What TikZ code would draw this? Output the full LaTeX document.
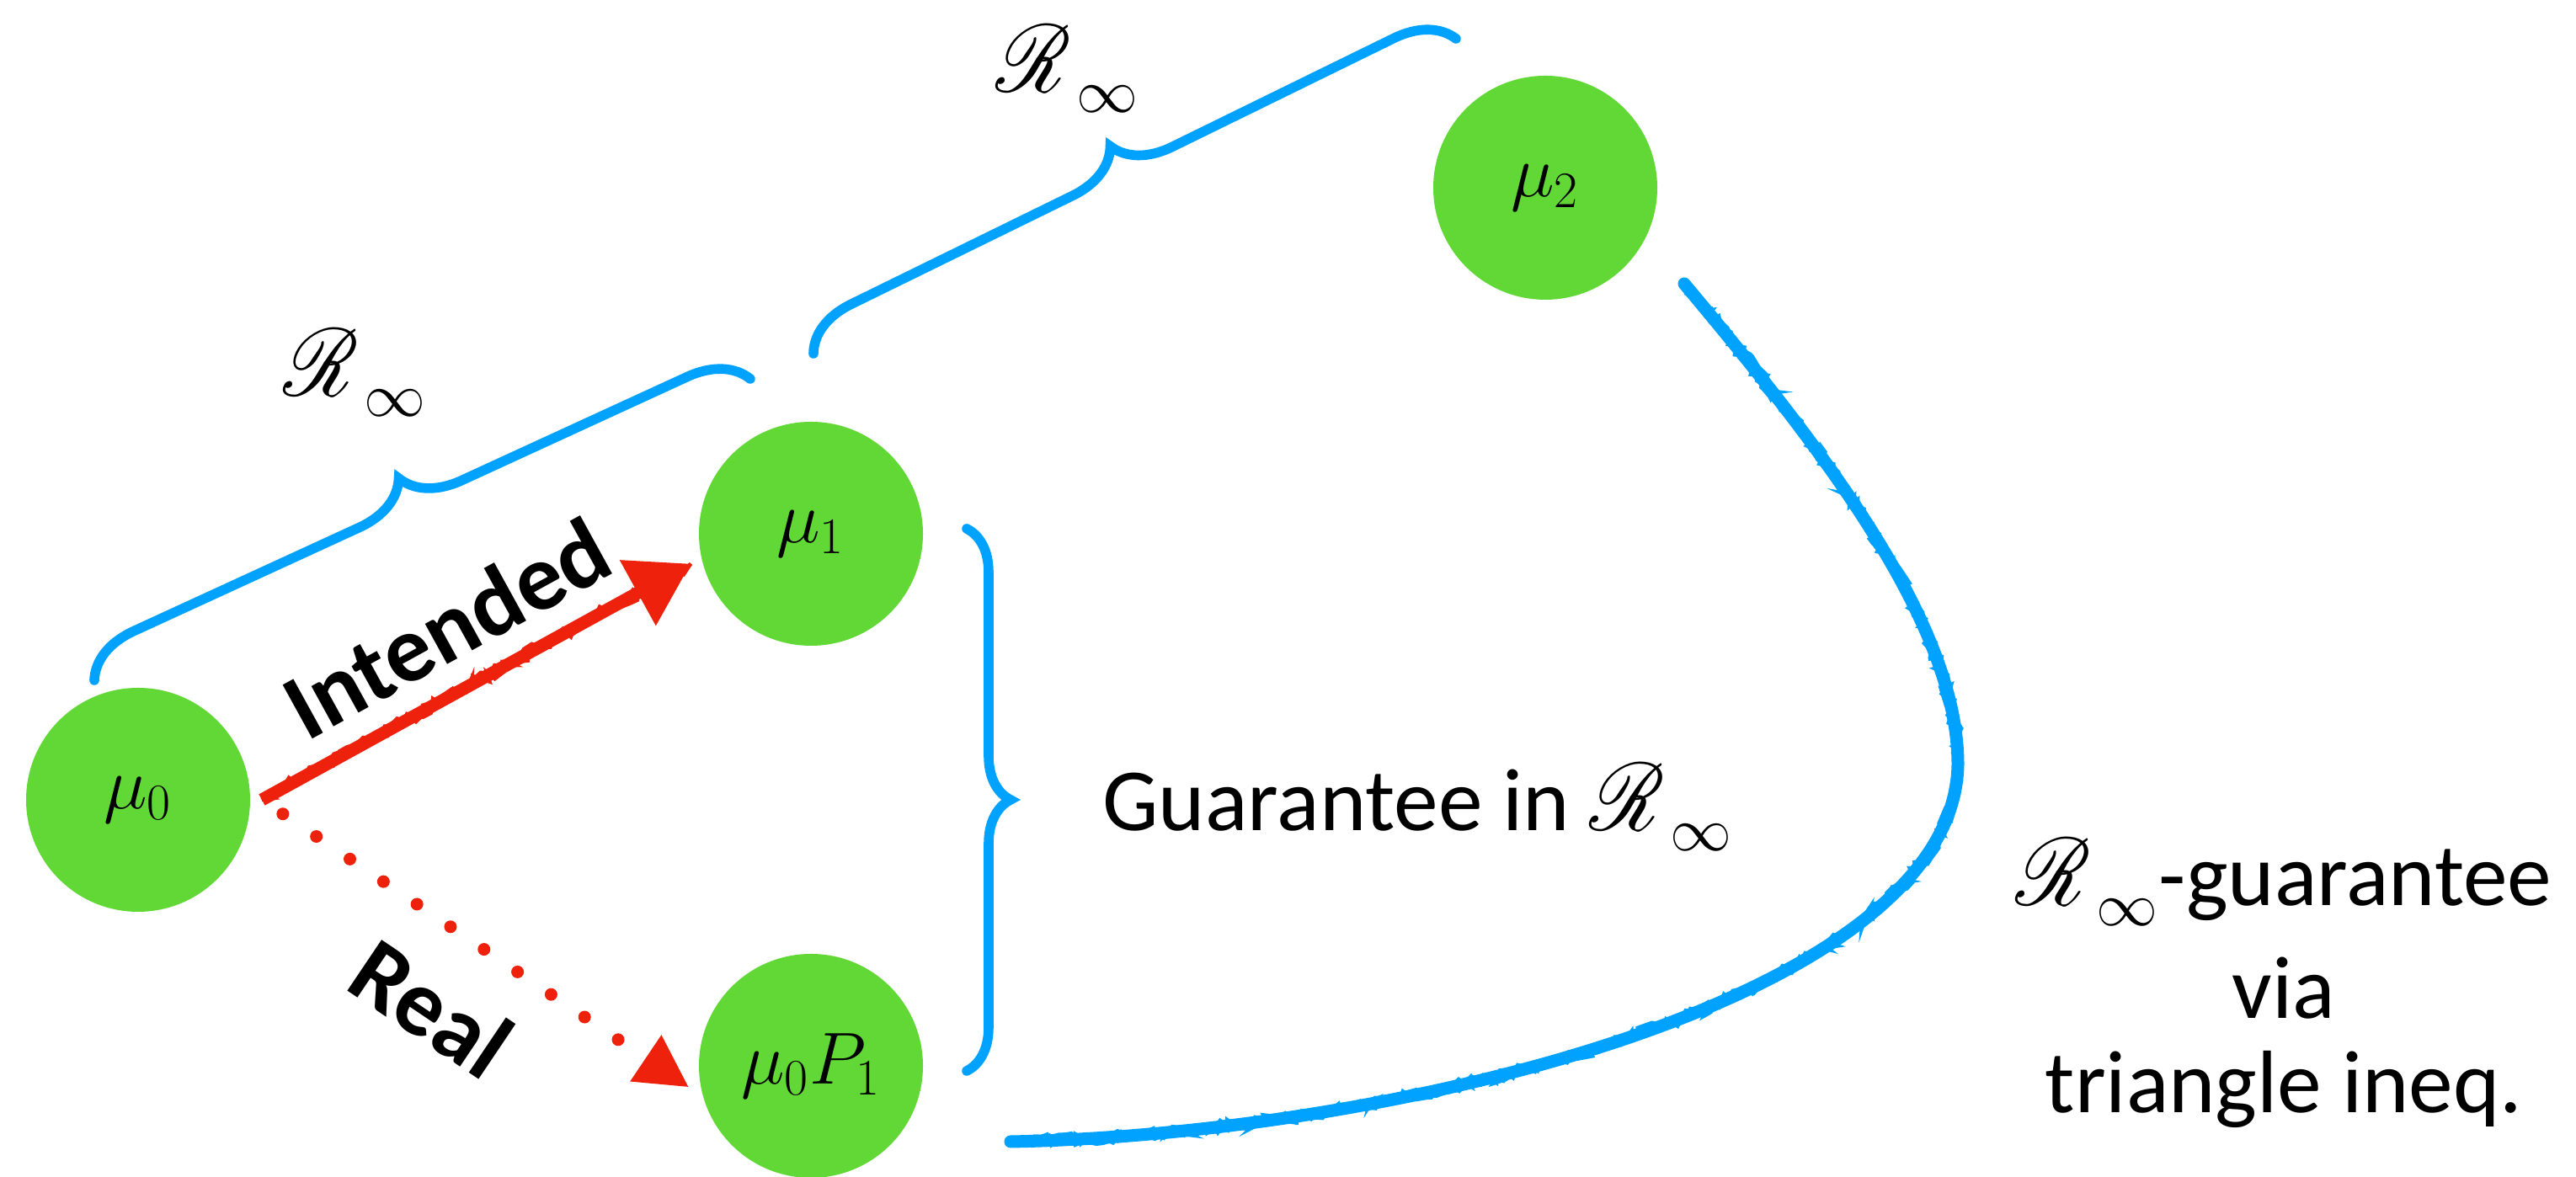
\documentclass[tikz,border=0pt]{standalone}
\usepackage{graphicx}
\usepackage{mathrsfs}
\usepackage[no-math]{fontspec}
\setmainfont{Carlito}
\usetikzlibrary{arrows.meta,decorations.pathreplacing,decorations.pathmorphing}

\definecolor{distgreen}{HTML}{61D836}
\definecolor{braceblue}{HTML}{00A2FF}
\definecolor{stepred}{HTML}{EE220C}
\newcommand{\Rinf}{\scalebox{1.12}[1.3]{$\mathscr{R}$}_{\mkern1.5mu\raisebox{-3pt}{$\scriptstyle\infty$}}}

\begin{document}
\begin{tikzpicture}[
    dist/.style={circle,fill=distgreen,minimum size=2.66cm,inner sep=0pt,outer sep=0.14cm,font=\fontsize{24}{28}\selectfont},
    rbrace/.style={draw=braceblue,line width=3.3pt,line cap=round,decorate,decoration={brace,amplitude=#1}},
    chalk/.style={postaction={draw=#1,-,line width=1.2pt,decorate,decoration={random steps,segment length=2.5pt,amplitude=2.2pt}}},
    intended/.style={draw=stepred,line width=0.15cm,-{Triangle[length=0.72cm,width=0.85cm]},chalk=stepred,chalk=stepred},
    real/.style={draw=stepred,line width=0.15cm,line cap=round,dash pattern=on 0pt off 0.48cm,shorten <=0.3cm,-{Triangle[length=0.62cm,width=0.62cm]}},
    tri/.style={draw=braceblue,line width=0.15cm,line cap=round,chalk=braceblue,chalk=braceblue,chalk=braceblue},
    lbl/.style={font=\fontsize{30}{32}\selectfont},
    rlbl/.style={font=\fontsize{28}{34}\selectfont},
    arrlbl/.style={font=\fontsize{32}{38}\selectfont\bfseries,sloped,inner sep=0pt}
]
    \pgfmathsetseed{7}
    \useasboundingbox (0,0) rectangle (30.59,13.98);

    % distributions
    \node[dist] (mu0) at (1.64,4.48) {$\mu_0$};
    \node[dist] (mu1) at (9.63,7.64) {$\mu_1$};
    \node[dist] (mu0P1) at (9.63,1.32) {$\mu_0P_1$};
    \node[dist] (mu2) at (18.35,11.75) {$\mu_2$};

    % braces
    \coordinate (b1a) at (1.12,5.90);
    \coordinate (b1b) at (8.91,9.48);
    \coordinate (b2a) at (9.66,9.78);
    \coordinate (b2b) at (17.29,13.52);
    \coordinate (b3a) at (11.48,7.70);
    \coordinate (b3b) at (11.48,1.26);
    \draw[rbrace=0.67cm] (b1a) -- (b1b);
    \draw[rbrace=0.66cm] (b2a) -- (b2b);
    \draw[rbrace=0.52cm] (b3a) -- (b3b);
    \node[rlbl] (r1) at (4.22,9.55) {$\Rinf$};
    \node[rlbl] (r2) at (12.68,13.16) {$\Rinf$};
    \node[lbl,anchor=base west] (guar) at (12.97,4.11) {Guarantee in $\Rinf$};

    % steps
    \draw[intended] (mu0.east) -- node[arrlbl,above=0.26cm] {Intended} (mu1.194);
    \draw[real] (mu0.east) -- node[arrlbl,below=0.45cm] {Real} (mu0P1.190);

    % triangle inequality
    \coordinate (t1) at (20.00,10.61);
    \coordinate (t2) at (12.00,0.42);
    \draw[tri] (t1) .. controls (21.6,8.7) and (23.25,6.6) .. (23.25,4.9)
        .. controls (23.2,2.1) and (16.5,0.5) .. (t2);
    \node[lbl,align=center] (via) at (27.12,2.30) {$\Rinf$-guarantee\\[6pt]via\\triangle ineq.};
\end{tikzpicture}
\end{document}
